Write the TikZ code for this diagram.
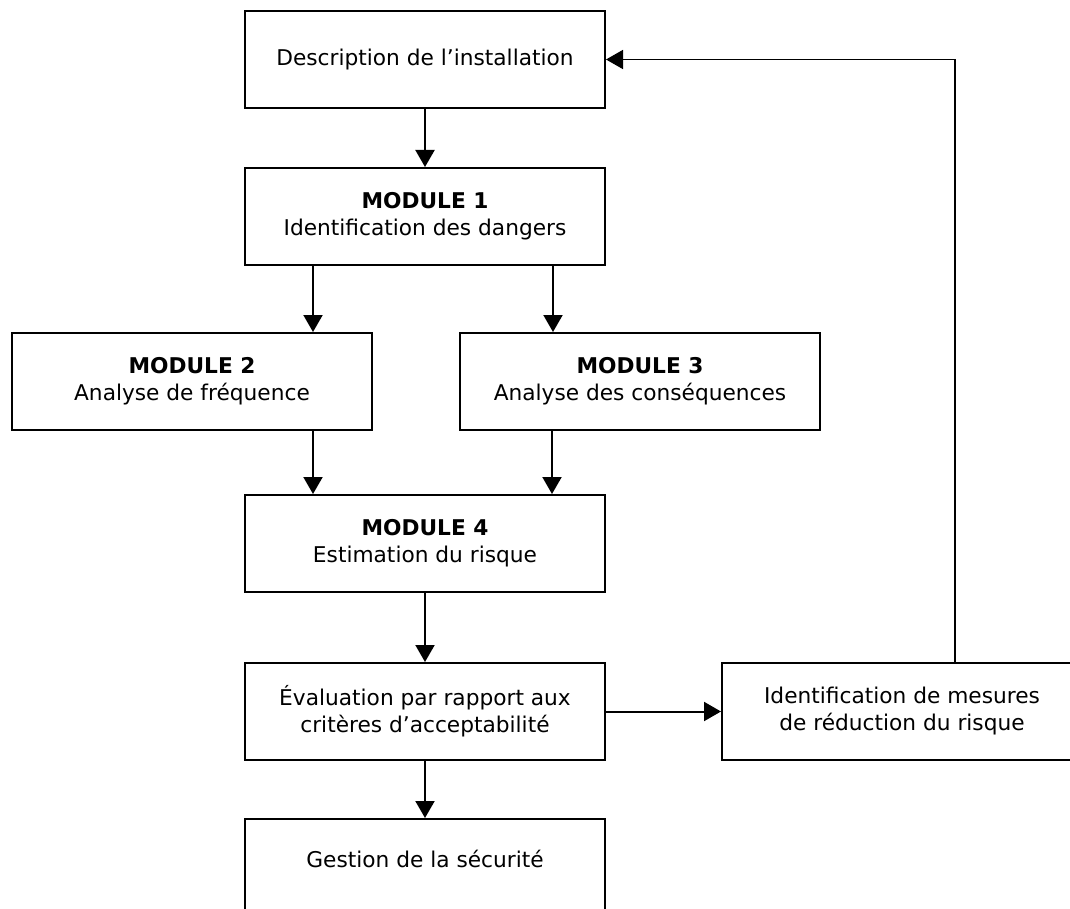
\documentclass[tikz,border=0pt]{standalone}
\usepackage{fontspec}
\setmainfont{DejaVu Sans}
\usetikzlibrary{arrows.meta,calc}
\begin{document}
\begin{tikzpicture}[x=1pt,y=-1pt,
  box/.style={draw, line width=2pt, minimum width=360pt, minimum height=97pt,
    inner sep=0pt, align=center, anchor=north west,
    font=\fontsize{21.7}{27}\selectfont},
  conn/.style={line width=2pt, -{Triangle[length=17pt,width=19pt]}},
  back/.style={line width=1.5pt, -{Triangle[length=17pt,width=19pt]}}]
\clip (0,0) rectangle (1070,909);
\node[box] (desc) at (244,10) {Description de l’installation};
\node[box] (m1) at (244,167) {\textbf{MODULE 1}\\Identification des dangers};
\node[box] (m2) at (11,332) {\textbf{MODULE 2}\\Analyse de fréquence};
\node[box] (m3) at (459,332) {\textbf{MODULE 3}\\Analyse des conséquences};
\node[box] (m4) at (244,494) {\textbf{MODULE 4}\\Estimation du risque};
\node[box] (eval) at (244,662) {Évaluation par rapport aux\\critères d’acceptabilité};
\node[box] (ident) at (721,662) {Identification de mesures\\de réduction du risque};
\node[box, text depth=17pt] (gest) at (244,818) {Gestion de la sécurité};

\draw[conn] (desc.south) -- (m1.north);
\draw[conn] ([xshift=69pt]m1.south west) -- ([xshift=69pt]m1.south west |- m2.north);
\draw[conn] ([xshift=-53pt]m1.south east) -- ([xshift=-53pt]m1.south east |- m3.north);
\draw[conn] ([xshift=69pt]m4.north west |- m2.south) -- ([xshift=69pt]m4.north west);
\draw[conn] ([xshift=-54pt]m4.north east |- m3.south) -- ([xshift=-54pt]m4.north east);
\draw[conn] (m4.south) -- (eval.north);
\draw[conn] (eval.south) -- (gest.north);
\draw[conn] (eval.east) -- (ident.west);
\draw[back] ([xshift=234pt]ident.north west) |- (desc.east);
\end{tikzpicture}
\end{document}
